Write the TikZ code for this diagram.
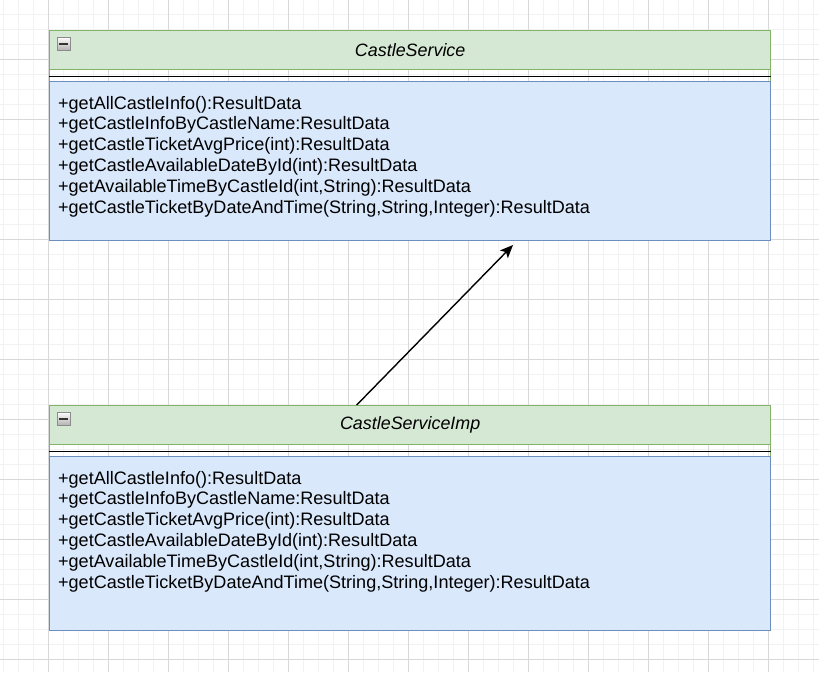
\documentclass[tikz,border=0pt]{standalone}
\usepackage{fontspec}
\setmainfont{Liberation Sans}
\usepackage{tikz}
\usetikzlibrary{arrows.meta, positioning}
\definecolor{LaneGreen}{HTML}{82B366}
\definecolor{LaneFill}{HTML}{D5E8D4}
\definecolor{BodyBlue}{HTML}{6C8EBF}
\definecolor{BodyFill}{HTML}{DAE8FC}
\definecolor{GridMinor}{HTML}{F2F2F2}
\definecolor{GridMajor}{HTML}{D8D8D8}

\begin{document}
\begin{tikzpicture}[x=1pt, y=-1pt,
    minorgrid/.style={draw=GridMinor, line width=0.8pt},
    majorgrid/.style={draw=GridMajor, line width=0.9pt},
    lane/.style={rectangle, draw=LaneGreen, line width=1.4pt, minimum width=721pt, inner sep=0pt},
    header/.style={rectangle, draw=LaneGreen, fill=LaneFill, line width=1.4pt, minimum width=721pt, minimum height=39pt, inner sep=0pt, font=\fontsize{17.9}{20.8}\selectfont\itshape},
    body/.style={rectangle, draw=BodyBlue, fill=BodyFill, line width=1.5pt, minimum width=721pt, inner sep=0pt},
    sepline/.style={draw=black, line width=1.5pt},
    toggle/.style={rectangle, draw=black!45, top color=white, bottom color=black!30, minimum size=13pt, inner sep=0pt, line width=0.8pt,
        path picture={\fill[black!80] ([xshift=-4.5pt,yshift=-1pt]path picture bounding box.center) rectangle ([xshift=4.5pt,yshift=1pt]path picture bounding box.center);}},
    ops/.style={anchor=north west, inner sep=0pt, align=left, font=\fontsize{18.05}{20.8}\selectfont},
    realize/.style={-{Stealth[length=13pt, width=11pt, inset=3pt]}, draw=black, line width=1.4pt}
]
\useasboundingbox (0,0) rectangle (819,672);
\fill[white] (0,0) rectangle (819,672);
\foreach \x in {3,18,...,818} \draw[minorgrid] (\x,0) -- (\x,672);
\foreach \y in {14,29,...,671} \draw[minorgrid] (0,\y) -- (819,\y);
\foreach \x in {48,108,...,768} \draw[majorgrid] (\x,0) -- (\x,672);
\foreach \y in {59,119,...,659} \draw[majorgrid] (0,\y) -- (819,\y);

\node[lane, minimum height=210pt, anchor=north west] (SVC) at (49,30) {};
\node[header, anchor=north] (SVCHEAD) at (SVC.north) {CastleService};
\node[toggle] (SVCTOGGLE) at ([xshift=14.5pt,yshift=-13.5pt]SVC.north west) {};
\draw[sepline] ([yshift=-6pt]SVCHEAD.south west) -- ([yshift=-6pt]SVCHEAD.south east);
\node[body, minimum height=159pt, anchor=south] (SVCBODY) at (SVC.south) {};
\node[ops] (SVCOPS) at ([xshift=9pt,yshift=-15pt]SVCBODY.north west) {+getAllCastleInfo():ResultData\\
+getCastleInfoByCastleName:ResultData\\
+getCastleTicketAvgPrice(int):ResultData\\
+getCastleAvailableDateById(int):ResultData\\
+getAvailableTimeByCastleId(int,String):ResultData\\
+getCastleTicketByDateAndTime(String,String,Integer):ResultData};

\node[lane, minimum height=225pt, anchor=north west] (IMP) at (49,405) {};
\node[header, anchor=north] (IMPHEAD) at (IMP.north) {CastleServiceImp};
\node[toggle] (IMPTOGGLE) at ([xshift=14.5pt,yshift=-13.5pt]IMP.north west) {};
\draw[sepline] ([yshift=-6pt]IMPHEAD.south west) -- ([yshift=-6pt]IMPHEAD.south east);
\node[body, minimum height=174pt, anchor=south] (IMPBODY) at (IMP.south) {};
\node[ops] (IMPOPS) at ([xshift=9pt,yshift=-15pt]IMPBODY.north west) {+getAllCastleInfo():ResultData\\
+getCastleInfoByCastleName:ResultData\\
+getCastleTicketAvgPrice(int):ResultData\\
+getCastleAvailableDateById(int):ResultData\\
+getAvailableTimeByCastleId(int,String):ResultData\\
+getCastleTicketByDateAndTime(String,String,Integer):ResultData};

\coordinate (SVCTIP) at (513,245);
\draw[realize] ([xshift=-53.5pt]IMPHEAD.north) -- (SVCTIP);
\end{tikzpicture}
\end{document}
